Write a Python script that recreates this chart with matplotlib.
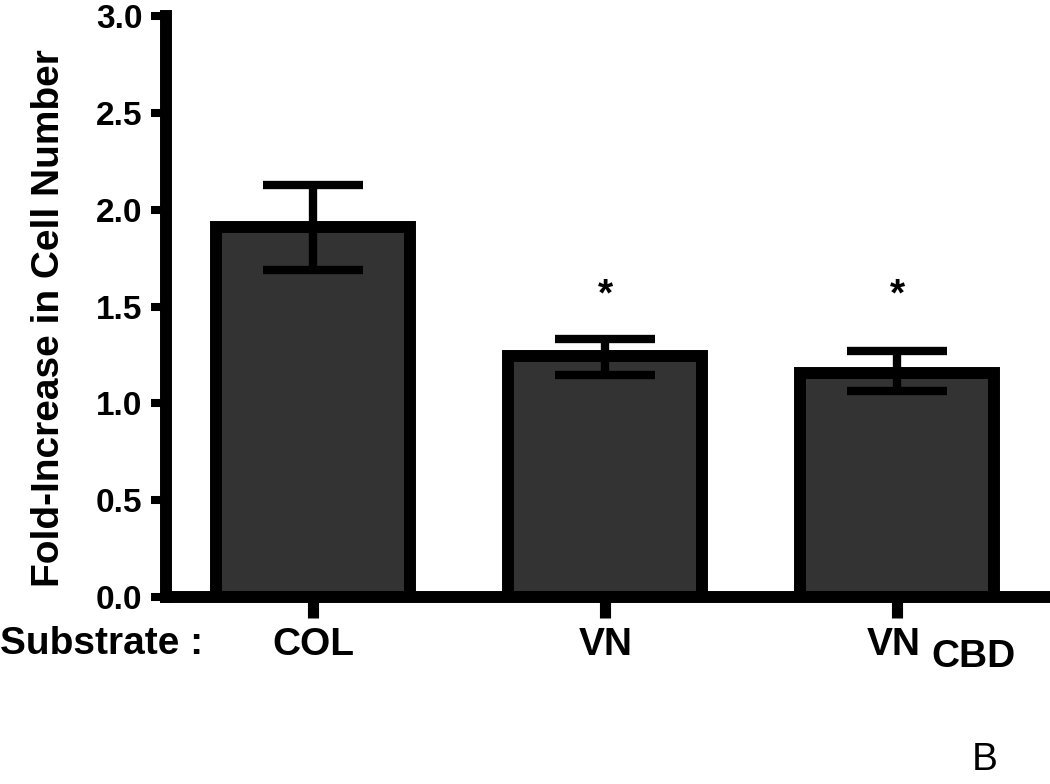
import matplotlib.pyplot as plt

substrates = ['COL', 'VN', 'VN']
subscripts = ['', '', 'CBD']
fold_increase = [1.91, 1.245, 1.16]
err_hi = [0.22, 0.087, 0.113]
err_lo = [0.22, 0.097, 0.097]
starred = [False, True, True]
star_height = 1.56
yticks = [0.0, 0.5, 1.0, 1.5, 2.0, 2.5, 3.0]

plt.rcParams['font.family'] = ['Liberation Sans', 'DejaVu Sans']

fig = plt.figure(figsize=(10.5, 7.84), dpi=100)
ax = fig.add_axes([0.158, 0.2385, 0.837, 0.7405])

x = list(range(len(substrates)))
ax.bar(x, fold_increase, width=0.665, color='#333333', edgecolor='black',
       linewidth=8.6, zorder=2)
ax.errorbar(x, fold_increase, yerr=[err_lo, err_hi], fmt='none', ecolor='black',
            elinewidth=6, capsize=36, capthick=6, zorder=3)

for xi, s in zip(x, starred):
    if s:
        ax.text(xi, star_height, '*', ha='center', va='center', fontsize=28,
                fontweight='bold')

ax.set_xlim(-0.505, 2.505)
ax.set_ylim(0, 3.0)
ax.set_yticks(yticks)
ax.set_yticklabels([f'{t:.1f}' for t in yticks], fontweight='bold')
ax.set_xticks(x)
ax.set_xticklabels(['' for _ in x])
ax.tick_params(axis='y', labelsize=24, width=5.8, length=11, pad=6)
ax.tick_params(axis='x', width=8, length=15, pad=2)

for side in ['top', 'right']:
    ax.spines[side].set_visible(False)
for side in ['left', 'bottom']:
    ax.spines[side].set_linewidth(8.6)

ax.set_ylabel('Fold-Increase in Cell Number', fontsize=28, fontweight='bold')
ax.yaxis.set_label_coords(-0.112, 0.48)

# category labels under the axis
for xi, name, sub in zip(x, substrates, subscripts):
    if sub:
        ax.text(xi + 0.08, -0.25, name, ha='right', va='center', fontsize=28,
                fontweight='bold')
        ax.text(xi + 0.115, -0.31, sub, ha='left', va='center', fontsize=28,
                fontweight='bold')
    else:
        ax.text(xi, -0.25, name, ha='center', va='center', fontsize=28,
                fontweight='bold')
fig.text(0.0, 0.179, 'Substrate :', ha='left', va='center', fontsize=28,
         fontweight='bold')

fig.text(0.938, 0.03, 'B', ha='center', va='center', fontsize=28)

fig.savefig('out.png', dpi=100)
